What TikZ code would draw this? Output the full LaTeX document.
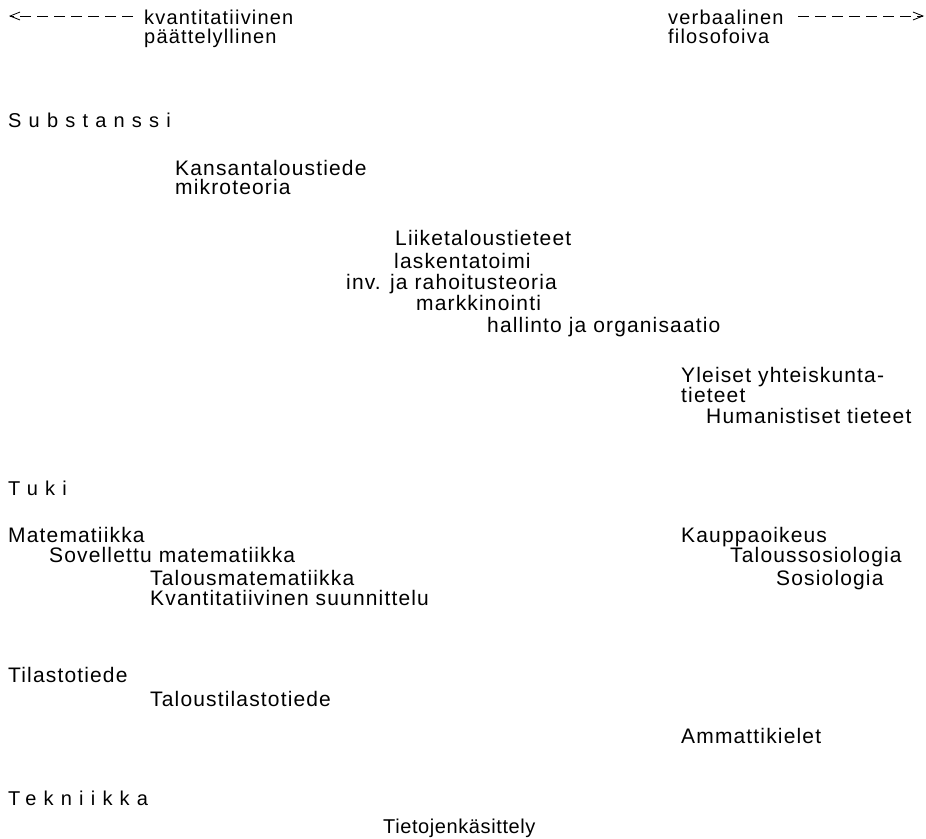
\documentclass[tikz,border=0pt]{standalone}
\usepackage{fontspec}
\setmainfont{Liberation Sans}[LetterSpace=5.5]
\newfontfamily\toplbl{Liberation Sans}[LetterSpace=6]
\newfontfamily\spaced{Liberation Sans}[LetterSpace=36]
\newfontfamily\narrowsp{Liberation Sans}[LetterSpace=3]
\usetikzlibrary{arrows.meta}
\tikzset{
  lbl/.style={inner sep=0pt, anchor=base west, font=\fontsize{21}{23}\selectfont},
  toplabel/.style={inner sep=0pt, anchor=base west, font=\fontsize{20}{22}\toplbl},
  head/.style={inner sep=0pt, anchor=base west, font=\fontsize{20}{22}\spaced},
  dirarrow/.style={line width=0.8pt, dash pattern=on 11pt off 6pt, -{Straight Barb[length=10pt,width=8pt,line width=0.8pt]}}
}
\begin{document}
\begin{tikzpicture}[x=1pt,y=-1pt]
\useasboundingbox[fill=white] (0,0) rectangle (926,838);
% top direction labels
\node[toplabel] (kv) at (144,24) {kvantitatiivinen};
\node[toplabel] (pa) at (144,43) {päättelyllinen};
\node[toplabel] (ve) at (668,24) {verbaalinen};
\node[toplabel] (fi) at (668,43) {filosofoiva};
\coordinate (la0) at (133,16);
\coordinate (la1) at (9,16);
\coordinate (ra0) at (798,16);
\coordinate (ra1) at (924,16);
\draw[dirarrow] (la0) -- (la1);
\draw[dirarrow] (ra0) -- (ra1);
% Substanssi
\node[head] (sub) at (8,127) {Substanssi};
\node[lbl] (kt) at (175,175) {Kansantaloustiede};
\node[lbl] (mk) at (175,194) {mikroteoria};
\node[lbl] (lt) at (395,245) {Liiketaloustieteet};
\node[lbl] (la) at (394,268) {laskentatoimi};
\node[lbl] (ir) at (346,289) {inv. ja rahoitusteoria};
\node[lbl] (ma) at (416,310) {markkinointi};
\node[lbl] (ho) at (487,332) {hallinto ja organisaatio};
\node[lbl] (yy) at (681,382) {Yleiset yhteiskunta-};
\node[lbl] (ti) at (681,402) {tieteet};
\node[lbl] (hu) at (706,423) {Humanistiset tieteet};
% Tuki
\node[head] (tuki) at (8,495) {Tuki};
\node[lbl] (mat) at (8,542) {Matematiikka};
\node[lbl] (sm) at (49,562) {Sovellettu matematiikka};
\node[lbl] (tm) at (150,585) {Talousmatematiikka};
\node[lbl] (ks) at (150,605) {Kvantitatiivinen suunnittelu};
\node[lbl] (ko) at (681,542) {Kauppaoikeus};
\node[lbl] (tso) at (730,562) {Taloussosiologia};
\node[lbl] (so) at (776,585) {Sosiologia};
\node[lbl] (til) at (8,682) {Tilastotiede};
\node[lbl] (ttt) at (150,706) {Taloustilastotiede};
\node[lbl] (am) at (681,743) {Ammattikielet};
% Tekniikka
\node[head] (tek) at (8,805) {Tekniikka};
\node[lbl, font=\fontsize{20}{22}\narrowsp] (tk) at (383,833) {Tietojenkäsittely};
\end{tikzpicture}
\end{document}
